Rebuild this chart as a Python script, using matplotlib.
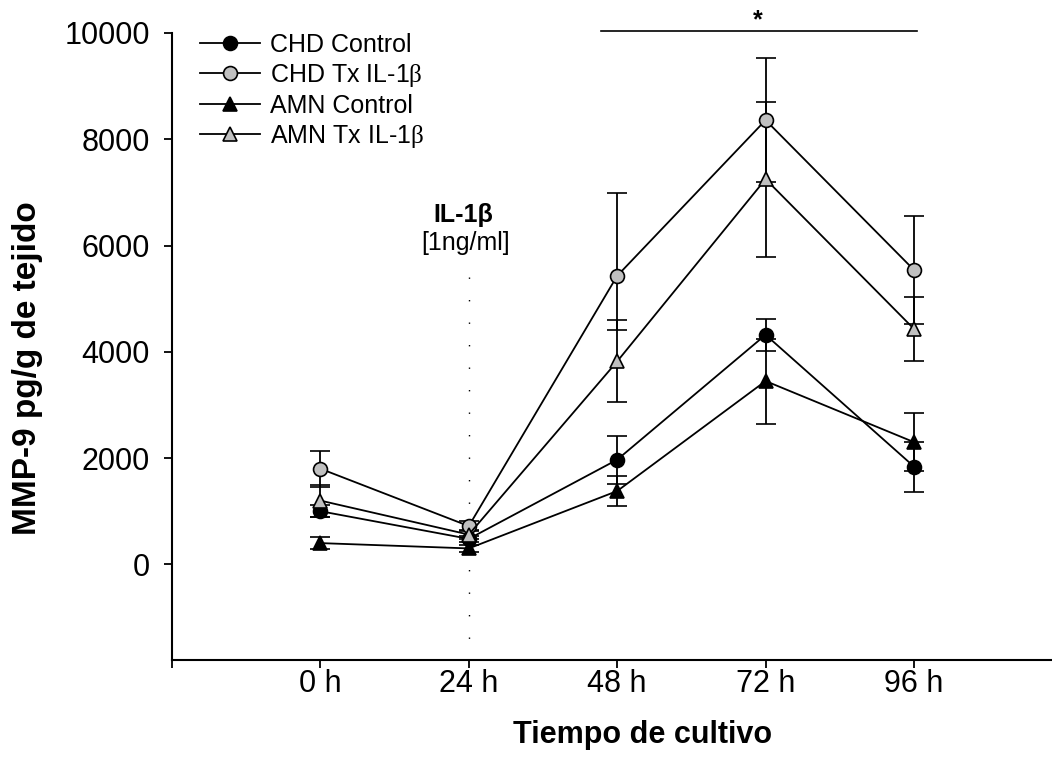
import numpy as np
import matplotlib.pyplot as plt

#********************************************#
# data (MMP-9 pg/g de tejido)
tiempo = [0, 1, 2, 3, 4]
tick_labels = ['0 h', '24 h', '48 h', '72 h', '96 h']
series_labels = ['CHD Control', r'CHD Tx IL-1$\beta$', 'AMN Control', r'AMN Tx IL-1$\beta$']

chd_control = [1000, 480, 1970, 4320, 1840]
chd_control_err = [110, 60, 450, 300, 470]

chd_tx = [1800, 720, 5430, 8360, 5540]
chd_tx_err_low = [340, 100, 1020, 1170, 1010]
chd_tx_err_up = [340, 100, 1560, 1170, 1010]

amn_control = [400, 300, 1380, 3450, 2300]
amn_control_err = [120, 60, 290, 800, 550]

amn_tx = [1200, 560, 3820, 7250, 4430]
amn_tx_err = [300, 80, 770, 1460, 600]

#********************************************#
plt.close()
plt.rcParams['font.family'] = ['Liberation Sans', 'DejaVu Sans']
# upright serif beta, like the Symbol font
plt.rcParams['mathtext.fontset'] = 'custom'
plt.rcParams['mathtext.rm'] = 'Liberation Serif'
plt.rcParams['mathtext.it'] = 'Liberation Serif'

fig = plt.figure(figsize=(10.52, 7.73), dpi=100)
ax = fig.add_axes([172/1052, 113/773, 6*148.4/1052, 627/773])

gris = '#c0c0c0'
estilo = dict(color='black', linewidth=1.3, markersize=10, markeredgecolor='black',
              markeredgewidth=1.2, capsize=7, elinewidth=1.3, capthick=1.3)

c1 = ax.errorbar(tiempo, chd_control, yerr=chd_control_err, marker='o', markerfacecolor='black', **estilo)
c2 = ax.errorbar(tiempo, chd_tx, yerr=[chd_tx_err_low, chd_tx_err_up], marker='o', markerfacecolor=gris, **estilo)
c3 = ax.errorbar(tiempo, amn_control, yerr=amn_control_err, marker='^', markerfacecolor='black', **estilo)
c4 = ax.errorbar(tiempo, amn_tx, yerr=amn_tx_err, marker='^', markerfacecolor=gris, **estilo)

# IL-1b stimulus at 24 h
ax.plot([1, 1], [5400, -1800], color='black', linewidth=1.0, linestyle=(0, (1, 15.2)))
ax.text(0.96, 6575, 'IL-1β', ha='center', va='center', fontsize=18, fontweight='bold')
ax.text(0.98, 6050, '[1ng/ml]', ha='center', va='center', fontsize=18)

# significance bar
ax.plot([1.89, 4.02], [10040, 10040], color='black', linewidth=1.2, clip_on=False)
ax.text(2.945, 10230, '*', ha='center', va='center', fontsize=18, fontweight='bold')

ax.set_xlim(-1, 5)
ax.set_ylim(-1800, 10000)
ax.set_xticks([-1, 0, 1, 2, 3, 4, 5])
ax.set_xticklabels([''] + tick_labels + [''])
ax.set_yticks([0, 2000, 4000, 6000, 8000, 10000])
ax.tick_params(axis='both', direction='out', length=6, width=1.3, labelsize=22)
ax.tick_params(axis='x', pad=0.5)
ax.tick_params(axis='y', pad=10)
ax.spines['top'].set_visible(False)
ax.spines['right'].set_visible(False)
ax.spines['left'].set_linewidth(1.5)
ax.spines['bottom'].set_linewidth(1.5)

ax.set_xlabel('Tiempo de cultivo', fontsize=22, fontweight='bold')
ax.xaxis.set_label_coords(0.528, -0.0957)
ax.set_ylabel('MMP-9 pg/g de tejido', fontsize=24, fontweight='bold')
ax.yaxis.set_label_coords(-0.145, 0.466)

plt.legend(handles=[c1[0], c2[0], c3[0], c4[0]], labels=series_labels, loc='upper left',
           bbox_to_anchor=(0.02, 1.016), frameon=False, fontsize=18, handlelength=2.4,
           handletextpad=0.4, labelspacing=0.2, borderaxespad=0.0)

plt.savefig('out.png', dpi=100)
